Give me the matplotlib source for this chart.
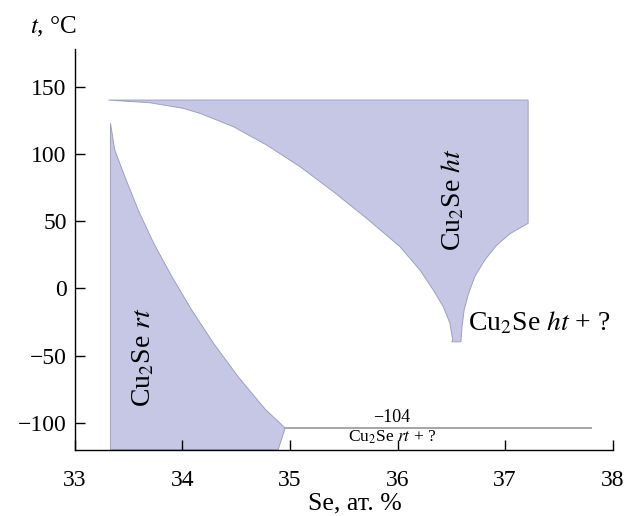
# Фазовая диаграмма Cu2Se: области rt и ht

import matplotlib
matplotlib.use("Agg")
import matplotlib.pyplot as plt

# Граница области Cu2Se rt (ат. % Se, t °C)
rt_x = [33.33, 33.33, 33.37, 33.465, 33.59, 33.73, 33.90, 34.085, 34.29, 34.52, 34.77, 34.955, 34.89]
rt_t = [-120, 123, 103, 83, 58, 34, 9, -16, -41, -66, -90, -104, -120]

# Граница области Cu2Se ht: верхняя линия, правый край, правая кривая, каспа, левая кривая
ht_x = [33.31, 37.215, 37.215, 37.05, 36.92, 36.81, 36.72, 36.66, 36.62, 36.60, 36.59,
        36.505, 36.513, 36.488, 36.426, 36.333, 36.209, 36.023, 35.713, 35.403, 35.093,
        34.783, 34.473, 34.163, 34.008, 33.698, 33.31]
ht_t = [140.3, 140.3, 48.5, 41, 32, 21, 9, -4, -16, -28.5, -39.7,
        -39.8, -38.4, -26, -13.6, -1.2, 13.7, 31.1, 52.2, 72.1, 90.7,
        106.8, 120.5, 130.4, 134.1, 138.3, 140.3]

# Эвтектоидная линия при -104 °C
line_x = [34.955, 37.8]
line_t = [-104, -104]

xticks = [33, 34, 35, 36, 37, 38]
yticks = [-100, -50, 0, 50, 100, 150]

# Настройки графика
plt.rcParams["font.family"] = ["Liberation Serif", "DejaVu Serif"]
plt.rcParams["mathtext.fontset"] = "stix"
plt.rcParams["xtick.direction"] = "in"
plt.rcParams["ytick.direction"] = "in"

fig = plt.figure(figsize=(6.27, 5.16), dpi=100)
ax = fig.add_axes([0.1196, 0.1287, 0.8573, 0.7755])

fill_c = "#c5c7e4"
edge_c = "#9c9ecb"
ax.fill(rt_x, rt_t, fc=fill_c, ec=edge_c, lw=0.7)
ax.fill(ht_x, ht_t, fc=fill_c, ec=edge_c, lw=0.7)
ax.plot(line_x, line_t, color="#a6a6a6", lw=1.4)

ax.set_xlim(33, 38)
ax.set_ylim(-120, 178)
ax.set_xticks(xticks)
ax.set_yticks(yticks)
ax.tick_params(length=7, width=1, labelsize=17)
ax.tick_params(axis="x", pad=15)
ax.tick_params(axis="y", pad=6)
for s in ["top", "right"]:
    ax.spines[s].set_visible(False)
for s in ["left", "bottom"]:
    ax.spines[s].set_linewidth(1)

ax.text(33.64, -51, "Cu$_2$Se $\\it{rt}$", rotation=90, fontsize=20,
        ha="center", va="center")
ax.text(36.52, 66, "Cu$_2$Se $\\it{ht}$", rotation=90, fontsize=20,
        ha="center", va="center")
ax.text(36.66, -31, "Cu$_2$Se $\\it{ht}$ + ?", fontsize=20,
        ha="left", va="baseline")
ax.text(35.95, -99.8, "\u2212104", fontsize=13, ha="center", va="baseline")
ax.text(35.95, -114, "Cu$_2$Se $\\it{rt}$ + ?", fontsize=12.5,
        ha="center", va="baseline")

fig.text(0.048, 0.936, "$\\it{t}$, °C", fontsize=18, ha="left", va="baseline")
fig.text(0.566, 0.012, "Se, ат. %", fontsize=18.5, ha="center", va="baseline")

fig.savefig("out.png", dpi=100)
